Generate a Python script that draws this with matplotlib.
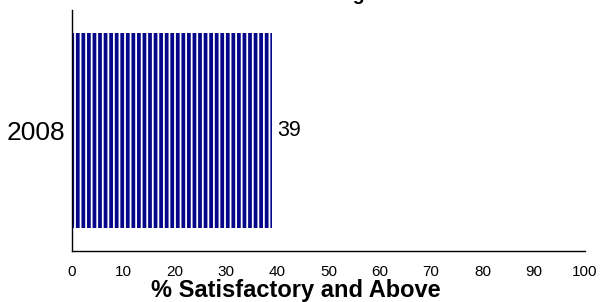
import numpy as np
import matplotlib
matplotlib.use('Agg')
import matplotlib.pyplot as plt

plt.rcParams['font.family'] = ['Liberation Sans', 'DejaVu Sans']
plt.rcParams['hatch.linewidth'] = 1.3
plt.rcParams['hatch.color'] = 'white'

# data
years = ['2008']
pct_satisfactory = [39]
title = 'Grade 4 Reading'

navy = '#06068a'

fig = plt.figure(figsize=(6, 3.02), dpi=100, facecolor='white')
ax = fig.add_axes([72 / 600, 1 - 251 / 302, 513 / 600, 241 / 302])

y = np.arange(len(years))
bars = ax.barh(y, pct_satisfactory, height=0.8, color=navy, edgecolor='white',
               hatch='|||', linewidth=0)

for yi, v in zip(y, pct_satisfactory):
    ax.text(v + 1.0, yi, f'{v}', va='center', ha='left', fontsize=15.5)

ax.set_xlim(0, 100)
ax.set_ylim(-0.493, 0.493)
ax.set_xticks(np.arange(0, 101, 10))
ax.set_yticks(y)
ax.set_yticklabels(years, fontsize=19)
ax.tick_params(axis='x', length=0, labelsize=11, pad=10)
ax.tick_params(axis='y', length=0, pad=5)
ax.spines['top'].set_visible(False)
ax.spines['right'].set_visible(False)
ax.spines['left'].set_linewidth(1.0)
ax.spines['bottom'].set_linewidth(1.0)

# x label is centred on the figure rather than the axes
fig.text(296 / 600, 1 - 290 / 302, '% Satisfactory and Above', ha='center',
         va='center', fontsize=17, fontweight='bold')

# title sits almost entirely above the canvas, as in the reference
fig.text(287 / 600, 1 + 0.3 / 302, title, ha='center', va='baseline',
         fontsize=14, fontweight='bold')

fig.savefig('out.png', dpi=100, facecolor='white')
